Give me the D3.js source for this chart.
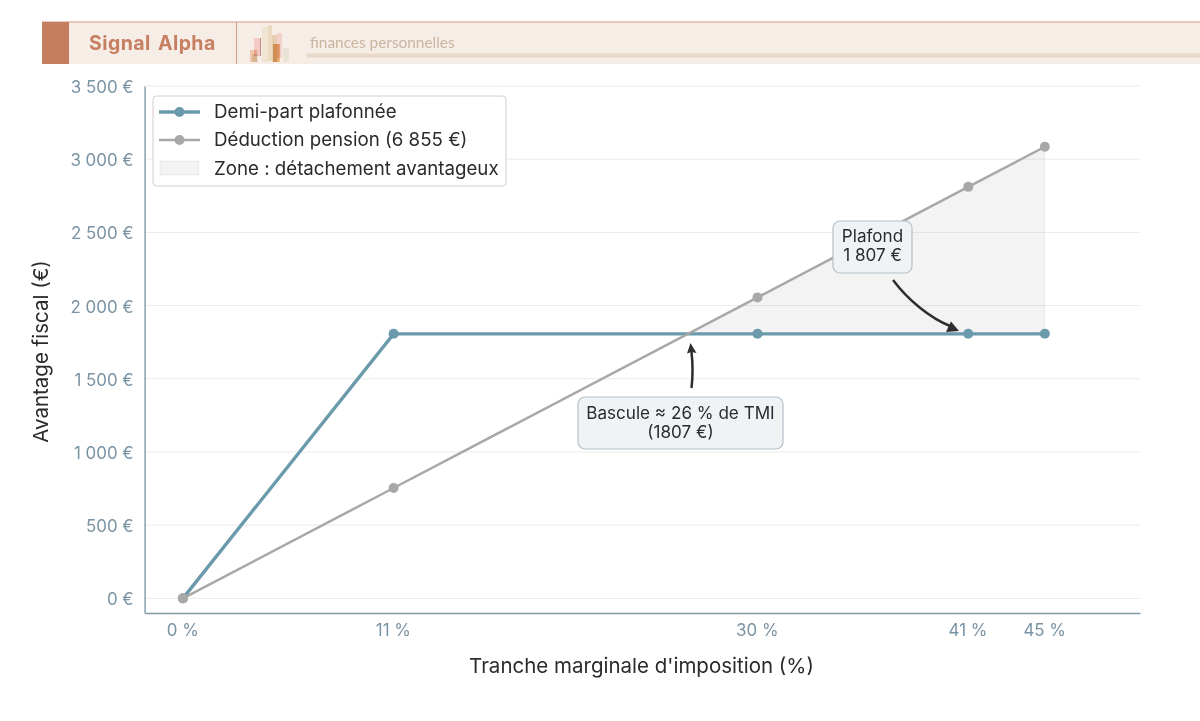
<!DOCTYPE html>
<html lang="fr">
<head>
<meta charset="utf-8">
<title>Signal Alpha</title>
<script src="https://cdn.jsdelivr.net/npm/d3@7"></script>
<style>
html,body{margin:0;padding:0;background:#fff}
svg{display:block}
text{font-family:Inter,"Noto Sans",sans-serif}
</style>
</head>
<body>
<svg id="chart" width="1200" height="721"></svg>
<script>
// Tax brackets and the fiscal advantage of each scheme, in euros
const brackets = [0, 11, 30, 41, 45];
const bracketLabels = ["0 %", "11 %", "30 %", "41 %", "45 %"];
const cappedHalfShare = [0, 1807, 1807, 1807, 1807];
const pensionDeduction = [0, 754, 2056, 2811, 3085];
const yTicks = [0, 500, 1000, 1500, 2000, 2500, 3000, 3500];
const yTickLabels = ["0 €", "500 €", "1 000 €", "1 500 €", "2 000 €", "2 500 €", "3 000 €", "3 500 €"];
const crossover = 26.36;
const cap = 1807;

// Bars of the small skyline emblem: x, y, w, h, colour
const emblemBars = [
  [250, 50, 7, 12, "#f2c4a4"], [252, 54, 6, 8, "#e0e0d0"],
  [254, 38, 7, 18, "#f0c6c0"], [260, 38, 1, 18, "#c9a39a"],
  [262, 27, 6, 35, "#efe2d0"], [268, 25, 4, 36, "#e8d8bc"],
  [272, 35, 5, 27, "#e3cbaa"], [277, 33, 5, 25, "#f2d0c6"],
  [273, 44, 6, 18, "#e6a566"], [279, 44, 1, 18, "#e9b682"],
  [283, 48, 6, 14, "#e6e1d2"]
];

const svg = d3.select("#chart");
const margin = {left: 144.6, right: 1140.6, top: 86, bottom: 613};
const x = d3.scaleLinear().domain([-2, 50]).range([margin.left, margin.right]);
const y = d3.scaleLinear().domain([-100, 3500]).range([margin.bottom, margin.top]);

// Header band
svg.append("rect").attr("x", 42).attr("y", 22).attr("width", 1158).attr("height", 42).attr("fill", "#f7ede7");
svg.append("rect").attr("x", 42).attr("y", 21.5).attr("width", 1158).attr("height", 1).attr("fill", "#d39a82");
svg.append("rect").attr("x", 42).attr("y", 22).attr("width", 27).attr("height", 42).attr("fill", "#c47e5e");
svg.append("rect").attr("x", 236).attr("y", 22).attr("width", 1).attr("height", 42).attr("fill", "#d39a82");
svg.append("text").attr("x", 89).attr("y", 50).attr("font-size", 19.5).attr("font-weight", 700)
  .attr("fill", "#c67f60").style("font-family", "Inter, sans-serif").attr("letter-spacing", 0.45).attr("word-spacing", 2).text("Signal Alpha");
svg.append("text").attr("x", 310).attr("y", 48).attr("font-size", 15.4).attr("fill", "#c9b6a0")
  .style("font-family", "Lato, sans-serif").text("finances personnelles");
svg.append("rect").attr("x", 307).attr("y", 53.5).attr("width", 893).attr("height", 4).attr("fill", "#e8d9ca");
svg.append("g").style("isolation", "isolate").selectAll("rect").data(emblemBars).join("rect")
  .attr("x", d => d[0]).attr("y", d => d[1]).attr("width", d => d[2]).attr("height", d => d[3])
  .attr("fill", d => d[4]).style("mix-blend-mode", "multiply").attr("opacity", 0.9);

// Horizontal gridlines
svg.append("g").selectAll("line").data(yTicks).join("line")
  .attr("x1", margin.left).attr("x2", 1140)
  .attr("y1", d => y(d)).attr("y2", d => y(d))
  .attr("stroke", "#ebebeb").attr("stroke-width", 1);

// Area where the pension deduction beats the capped half-share
const zoneX = [crossover, 30, 41, 45];
const zoneTop = [cap, pensionDeduction[2], pensionDeduction[3], pensionDeduction[4]];
const area = d3.area().x(d => x(d)).y0(y(cap)).y1((d, i) => y(zoneTop[i]));
svg.append("path").attr("d", area(zoneX)).attr("fill", "#a8a8a8").attr("fill-opacity", 0.14)
  .attr("stroke", "#a8a8a8").attr("stroke-opacity", 0.14);

// Axes
const axisColor = "#7f99a8", tickColor = "#7a93a3";
const yAxis = d3.axisLeft(y).tickValues(yTicks).tickFormat((d, i) => yTickLabels[i]).tickSize(0).tickPadding(11);
const gy = svg.append("g").attr("transform", `translate(${margin.left},0)`).call(yAxis);
const xAxis = d3.axisBottom(x.copy().range([margin.left, 1140]).domain([-2, x.invert(1140)])).tickValues(brackets).tickFormat((d, i) => bracketLabels[i]).tickSize(0).tickPadding(11);
const gx = svg.append("g").attr("transform", `translate(0,${margin.bottom})`).call(xAxis);
for (const g of [gy, gx]) {
  g.selectAll("text").attr("fill", tickColor).attr("font-size", 16.9).style("font-family", "Inter, sans-serif");
  g.select(".domain").attr("stroke", axisColor).attr("stroke-width", 1.4);
}
gx.selectAll("text").attr("dx", -0.7);
gy.selectAll("text").attr("dy", "0.38em");
svg.append("text").attr("x", 641.5).attr("y", 673).attr("text-anchor", "middle").attr("font-size", 20.5)
  .attr("fill", "#2b2b2b").text("Tranche marginale d'imposition (%)");
svg.append("text").attr("transform", "translate(48,351.5) rotate(-90)").attr("text-anchor", "middle").attr("font-size", 20.5)
  .attr("fill", "#2b2b2b").text("Avantage fiscal (€)");

// Series
const teal = "#6a9aab", grey = "#a8a8a8";
const line = d3.line().x((d, i) => x(brackets[i])).y(d => y(d));
function drawSeries(values, color, width, r) {
  svg.append("path").attr("d", line(values)).attr("fill", "none").attr("stroke", color).attr("stroke-width", width);
  svg.append("g").selectAll("circle").data(values).join("circle")
    .attr("cx", (d, i) => x(brackets[i])).attr("cy", d => y(d)).attr("r", r).attr("fill", color);
}
drawSeries(cappedHalfShare, teal, 3.4, 5);
drawSeries(pensionDeduction, grey, 2.5, 5);

// Legend
const legend = svg.append("g");
legend.append("rect").attr("x", 153).attr("y", 96).attr("width", 353).attr("height", 90).attr("rx", 3.5)
  .attr("fill", "#fff").attr("fill-opacity", 0.9).attr("stroke", "#cfcfcf").attr("stroke-width", 1);
const legendRows = [
  {label: "Demi-part plafonnée", color: teal, width: 3.4, cy: 112},
  {label: "Déduction pension (6 855 €)", color: grey, width: 2.5, cy: 140}
];
legendRows.forEach(r => {
  legend.append("line").attr("x1", 159).attr("x2", 200).attr("y1", r.cy).attr("y2", r.cy)
    .attr("stroke", r.color).attr("stroke-width", r.width);
  legend.append("circle").attr("cx", 179.5).attr("cy", r.cy).attr("r", 5).attr("fill", r.color);
  legend.append("text").attr("x", 214).attr("y", r.cy + 6).attr("font-size", 18.7).attr("fill", "#2b2b2b").text(r.label);
});
legend.append("rect").attr("x", 160).attr("y", 161).attr("width", 39).attr("height", 14)
  .attr("fill", "#a8a8a8").attr("fill-opacity", 0.14).attr("stroke", "#a8a8a8").attr("stroke-opacity", 0.14);
legend.append("text").attr("x", 214).attr("y", 175).attr("font-size", 18.7).attr("fill", "#2b2b2b").text("Zone : détachement avantageux");

// Annotations: rounded box, two centred lines, and a curved arrow
function callout(bx, by, bw, bh, lines, ty) {
  svg.append("rect").attr("x", bx).attr("y", by).attr("width", bw).attr("height", bh).attr("rx", 7)
    .attr("fill", "#f0f3f6").attr("stroke", "#b4c1ca").attr("stroke-width", 1.2);
  lines.forEach((t, i) => svg.append("text").attr("x", bx + bw / 2).attr("y", ty + i * 19)
    .attr("text-anchor", "middle").attr("font-size", 17.1).attr("fill", "#2b2b2b").text(t));
}
function arrow(d, head) {
  svg.append("path").attr("d", d).attr("fill", "none").attr("stroke", "#2e2e2e").attr("stroke-width", 2.5);
  svg.append("path").attr("d", head).attr("fill", "#2e2e2e");
}
callout(578, 397, 205, 52, ["Bascule ≈ 26 % de TMI", "(1807 €)"], 418.5);
callout(833, 221, 79, 52, ["Plafond", "1 807 €"], 242);
arrow("M691.5,388 C693,375 693,365 691.5,352", "M690.5,343 L696.5,353 L691.5,352 L687,353.5 Z");
arrow("M893,280 C908,300 930,318 950,326", "M959,331 L946,332 L948.5,326.5 L951,321.5 Z");
</script>
</body>
</html>
